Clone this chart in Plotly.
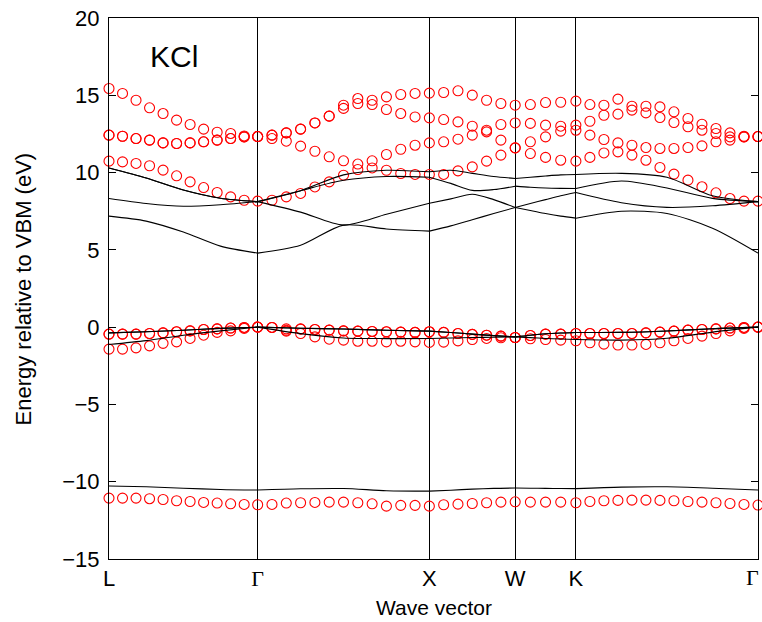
import numpy as np
import plotly.graph_objects as go

# ---------------- data ----------------
sym_labels = ["L", "Γ", "X", "W", "K", "Γ"]
seg_len = [0.8660, 1.0, 0.5, 0.3536, 1.0607]   # k-path segment lengths (2π/a)
circle_div = [11, 12, 6, 4, 13]                # k-point intervals per segment (circles)
line_div = [4, 4, 4, 4, 4]                     # k-point intervals per segment (lines)

# red circles (47 k-points along L-Γ-X-W-K-Γ)
circ_deep = [-11.06, -11.06, -11.06, -11.10, -11.15, -11.23, -11.28, -11.34, -11.38, -11.43, -11.47, -11.49,
             -11.47, -11.38, -11.36, -11.34, -11.32, -11.32, -11.36, -11.43, -11.58, -11.53, -11.53, -11.58,
             -11.49, -11.45, -11.41, -11.36, -11.32, -11.30,
             -11.32, -11.32, -11.32, -11.36,
             -11.28, -11.23, -11.21, -11.19, -11.19, -11.21, -11.23, -11.28, -11.32, -11.36, -11.41, -11.47, -11.51]
circ_v1 = [-1.42, -1.42, -1.34, -1.21, -1.05, -0.95, -0.73, -0.52, -0.34, -0.24, -0.08, 0.0,
           -0.02, -0.26, -0.41, -0.63, -0.78, -0.84, -0.91, -0.91, -0.95, -0.91, -0.95, -0.99,
           -0.97, -0.89, -0.80, -0.73, -0.69, -0.67,
           -0.75, -0.80, -0.84, -0.88,
           -1.01, -1.10, -1.16, -1.16, -1.12, -1.01, -0.88, -0.73, -0.58, -0.41, -0.24, -0.08, 0.0]
circ_v2 = [-0.45, -0.45, -0.45, -0.41, -0.37, -0.30, -0.24, -0.15, -0.11, -0.06, -0.02, 0.0,
           -0.02, -0.20, -0.13, -0.15, -0.19, -0.24, -0.26, -0.28, -0.30, -0.32, -0.34, -0.30,
           -0.34, -0.41, -0.47, -0.52, -0.58, -0.67,
           -0.54, -0.45, -0.45, -0.41,
           -0.41, -0.41, -0.41, -0.41, -0.37, -0.32, -0.26, -0.19, -0.15, -0.11, -0.06, -0.02, 0.0]
circ_v3 = [-0.45, -0.45, -0.45, -0.41, -0.37, -0.30, -0.24, -0.15, -0.11, -0.06, -0.02, 0.0,
           -0.02, -0.11, -0.11, -0.15, -0.19, -0.24, -0.26, -0.28, -0.30, -0.32, -0.34, -0.30,
           -0.34, -0.41, -0.47, -0.52, -0.58, -0.67,
           -0.54, -0.45, -0.45, -0.41,
           -0.41, -0.41, -0.41, -0.41, -0.37, -0.32, -0.26, -0.19, -0.15, -0.11, -0.06, -0.02, 0.0]
circ_c1 = [10.74, 10.69, 10.59, 10.44, 10.16, 9.79, 9.40, 9.03, 8.71, 8.43, 8.21, 8.15,
           8.21, 8.43, 8.65, 9.07, 9.40, 9.83, 10.20, 10.30, 10.15, 9.94, 9.88, 9.88,
           9.88, 10.11, 10.37, 10.74, 11.13, 11.60,
           11.23, 10.98, 10.80, 10.74,
           10.98, 11.27, 11.34, 11.13, 10.80, 10.33, 9.90, 9.51, 9.08, 8.69, 8.32, 8.15, 8.15]
circ_c2 = [12.42, 12.35, 12.20, 12.10, 11.92, 11.88, 11.92, 11.99, 12.10, 12.20, 12.31, 12.33,
           12.20, 12.03, 11.71, 11.38, 11.02, 10.76, 10.55, 10.76, 11.17, 11.51, 11.77, 11.92,
           11.99, 12.16, 12.42, 12.63, 12.10, 11.60,
           11.99, 12.31, 12.68, 12.74,
           12.42, 12.14, 11.92, 11.77, 11.62, 11.56, 11.56, 11.62, 11.73, 11.99, 12.10, 12.31, 12.33]
circ_c3 = [12.42, 12.35, 12.20, 12.10, 11.92, 11.88, 11.92, 11.99, 12.10, 12.20, 12.31, 12.33,
           12.42, 12.57, 12.81, 13.21, 13.65, 14.15, 14.47, 14.40, 14.08, 13.82, 13.60, 13.54,
           13.43, 13.28, 13.00, 12.74, 13.11, 13.21,
           13.18, 13.07, 13.00, 13.07,
           13.32, 13.71, 13.78, 14.04, 13.86, 13.56, 13.24, 12.96, 12.74, 12.53, 12.31, 12.31, 12.33]
circ_c4 = [15.44, 15.12, 14.68, 14.19, 13.82, 13.39, 13.11, 12.81, 12.61, 12.53, 12.37, 12.33,
           12.42, 12.57, 12.81, 13.21, 13.65, 14.36, 14.79, 14.68, 14.90, 15.05, 15.12, 15.14,
           15.18, 15.29, 15.01, 14.68, 14.47, 14.36,
           14.40, 14.53, 14.55, 14.62,
           14.40, 14.36, 14.75, 14.29, 14.29, 14.25, 13.93, 13.50, 13.13, 12.85, 12.57, 12.35, 12.33]

# black lines (21 k-points, 5 per segment with shared ends)
line_deep = [-10.28, -10.33, -10.42, -10.50, -10.54, -10.46, -10.44, -10.58, -10.61,
             -10.55, -10.48, -10.43, -10.41, -10.42, -10.43, -10.44, -10.45, -10.35, -10.33, -10.42, -10.54]
line_v1 = [-1.12, -0.87, -0.52, -0.24, 0.0, -0.42, -0.70, -0.74, -0.73,
           -0.70, -0.67, -0.65, -0.63, -0.68, -0.73, -0.77, -0.80, -0.84, -0.72, -0.32, 0.0]
line_v2 = [-0.37, -0.30, -0.20, -0.08, 0.0, -0.07, -0.12, -0.20, -0.26,
           -0.35, -0.45, -0.55, -0.63, -0.52, -0.43, -0.38, -0.35, -0.34, -0.25, -0.10, 0.0]
line_v3 = [-0.37, -0.30, -0.20, -0.08, 0.0, -0.07, -0.12, -0.20, -0.26,
           -0.35, -0.45, -0.55, -0.63, -0.52, -0.43, -0.38, -0.35, -0.34, -0.25, -0.10, 0.0]
line_c1 = [7.18, 6.86, 6.15, 5.24, 4.79, 5.30, 6.60, 6.35, 6.21,
           6.55, 6.95, 7.35, 7.74, 7.55, 7.35, 7.18, 7.05, 7.50, 7.35, 6.40, 4.79]
line_c2 = [8.32, 8.00, 7.82, 7.92, 8.12, 7.44, 6.60, 7.30, 8.02,
           8.30, 8.60, 8.25, 7.74, 8.00, 8.25, 8.50, 8.71, 8.05, 7.75, 7.85, 8.12]
line_c3 = [10.30, 9.65, 8.87, 8.34, 8.12, 8.83, 9.50, 9.75, 9.70,
           9.30, 8.85, 8.90, 9.12, 9.05, 9.00, 8.98, 8.97, 9.45, 9.00, 8.33, 8.12]
line_c4 = [10.30, 9.65, 8.87, 8.34, 8.12, 8.83, 9.85, 10.15, 10.05,
           10.15, 9.95, 9.75, 9.62, 9.70, 9.78, 9.85, 9.88, 9.95, 9.70, 8.50, 8.12]

# ---------------- k-path ----------------
sym_k = np.concatenate([[0.0], np.cumsum(seg_len)])


def kgrid(divs):
    ks = [0.0]
    for i, n in enumerate(divs):
        ks += list(np.linspace(sym_k[i], sym_k[i + 1], n + 1)[1:])
    return ks


k_circ = kgrid(circle_div)
k_line = kgrid(line_div)

fig = go.Figure()

circle_bands = [circ_deep, circ_v1, circ_v2, circ_v3, circ_c1, circ_c2, circ_c3, circ_c4]
for band in circle_bands:
    fig.add_trace(go.Scatter(x=k_circ, y=band, mode="markers",
                             marker=dict(symbol="circle-open", color="#ff0000", size=10,
                                         line=dict(width=1.1, color="#ff0000")),
                             showlegend=False, hoverinfo="skip", cliponaxis=False))

line_bands = [line_deep, line_v1, line_v2, line_v3, line_c1, line_c2, line_c3, line_c4]
for band in line_bands:
    xs, ys = [], []
    start = 0
    for n in line_div:
        xs += k_line[start:start + n + 1] + [None]
        ys += band[start:start + n + 1] + [None]
        start += n
    fig.add_trace(go.Scatter(x=xs, y=ys, mode="lines", connectgaps=False,
                             line=dict(color="black", width=1.1, shape="spline", smoothing=0.8),
                             showlegend=False, hoverinfo="skip"))

font_fam = "Liberation Sans, Arial, Helvetica, sans-serif"


def fmt_label(s):
    return s if s != "Γ" else '<span style="font-family:Liberation Serif">Γ</span>'


# last label is drawn as an annotation, right-aligned so it is not cut by the page edge
ticktext = [fmt_label(s) for s in sym_labels[:-1]] + [""]

fig.update_layout(
    width=762, height=622,
    margin=dict(l=109, r=4, t=18, b=63, autoexpand=False),
    paper_bgcolor="white", plot_bgcolor="white",
    font=dict(family=font_fam, size=22, color="black"),
    xaxis=dict(range=[0, sym_k[-1]], tickvals=list(sym_k), ticktext=ticktext,
               showgrid=True, gridcolor="black", gridwidth=1,
               ticks="inside", ticklen=6, tickcolor="black",
               showline=True, linecolor="black", linewidth=1, mirror=True,
               zeroline=False, tickfont=dict(size=22), automargin=False),
    yaxis=dict(range=[-15, 20], tickvals=[-15, -10, -5, 0, 5, 10, 15, 20],
               showgrid=False, ticks="inside", ticklen=7, tickcolor="black",
               showline=True, linecolor="black", linewidth=1, mirror="ticks",
               zeroline=False, tickfont=dict(size=22), ticklabelstandoff=4,
               automargin=False),
    annotations=[
        dict(text=fmt_label(sym_labels[-1]), x=sym_k[-1], xref="x", y=-0.035, yref="paper",
             xanchor="right", yanchor="middle", xshift=3, showarrow=False, font=dict(size=22)),
        dict(text="KCl", x=0.06, y=0.928, xref="paper", yref="paper",
             xanchor="left", yanchor="middle", showarrow=False, font=dict(size=30)),
        dict(text="Energy relative to VBM (eV)", x=-0.131, y=0.5, xref="paper", yref="paper",
             textangle=-90, xanchor="center", yanchor="middle", showarrow=False, font=dict(size=22)),
        dict(text="Wave vector", x=0.5, y=-0.089, xref="paper", yref="paper",
             xanchor="center", yanchor="middle", showarrow=False, font=dict(size=21)),
    ],
)

fig.write_html("out.html")
